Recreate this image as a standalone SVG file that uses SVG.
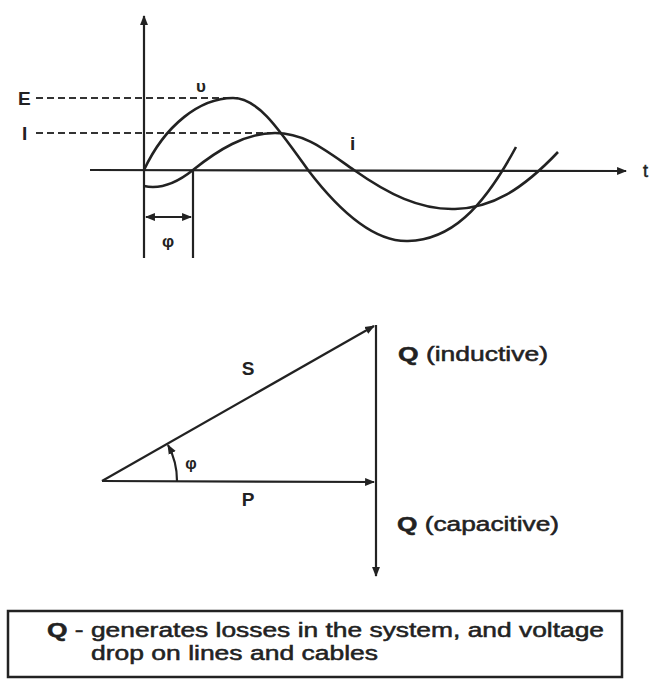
<svg xmlns="http://www.w3.org/2000/svg" width="649" height="679" viewBox="0 0 649 679">
<defs>
<style>
.ln{stroke:#222;stroke-width:2.2;fill:none}
.cv{stroke:#222;stroke-width:2.6;fill:none}
.dash{stroke:#333;stroke-width:2;fill:none;stroke-dasharray:7 4}
.lbl{font-family:"Liberation Sans",Arial,sans-serif;font-weight:bold;fill:#222}
.txt{font-family:"Liberation Sans",Arial,sans-serif;fill:#222;stroke:#222;stroke-width:0.5}
</style>
<marker id="ah" viewBox="0 0 10 10" refX="9" refY="5" markerWidth="4.5" markerHeight="4.5" orient="auto-start-reverse" markerUnits="strokeWidth">
<path d="M0,1 L10,5 L0,9 Z" fill="#222"/>
</marker>
</defs>
<rect width="649" height="679" fill="#fff"/>

<g id="waveform">
<line class="ln" x1="144" y1="258" x2="144" y2="16" marker-end="url(#ah)"/>
<line class="ln" x1="90" y1="170" x2="626" y2="171" marker-end="url(#ah)"/>
<text class="txt" x="643" y="177" font-size="18">t</text>
<line class="dash" x1="36" y1="98" x2="238" y2="98"/>
<line class="dash" x1="36" y1="133" x2="282" y2="133"/>
<text class="lbl" x="18" y="105" font-size="19">E</text>
<text class="lbl" x="22" y="140" font-size="19">I</text>
<text class="lbl" x="196" y="92" font-size="17">υ</text>
<text class="lbl" x="350" y="150" font-size="19">i</text>
<path id="v" class="cv" d="M144,170 C165,125 200,98 233,98 C258,98 278,128 308,170 C340,212 375,242 408,241 C450,240 482,210 516,147"/>
<path id="i" class="cv" d="M144,186 C162,190 178,182 193,170 C218,150 245,133 275,133 C305,133 325,150 354,170 C388,194 420,210 455,209 C492,208 522,190 558,152"/>
<line class="ln" x1="193" y1="170" x2="193" y2="258"/>
<line class="ln" x1="146" y1="217" x2="191" y2="217" marker-start="url(#ah)" marker-end="url(#ah)"/>
<text class="lbl" x="168" y="247" font-size="17" text-anchor="middle">φ</text>
</g>

<g id="connectors">
<line id="S" class="ln" x1="102" y1="481" x2="374" y2="326" marker-end="url(#ah)"/>
<line id="P" class="ln" x1="102" y1="481" x2="374" y2="482" marker-end="url(#ah)"/>
<line id="Qind" class="ln" x1="376" y1="482" x2="376" y2="325"/>
<line id="Qcap" class="ln" x1="376" y1="482" x2="376" y2="576" marker-end="url(#ah)"/>
<path id="arc" class="ln" stroke-width="2" d="M177,481 A75,75 0 0 0 168,445" marker-end="url(#ah)"/>
</g>

<g id="labels">
<text class="lbl" x="248" y="375" font-size="19" text-anchor="middle">S</text>
<text class="lbl" x="248" y="506" font-size="19" text-anchor="middle">P</text>
<text class="lbl" x="191" y="469" font-size="16" text-anchor="middle">φ</text>
<text class="txt" x="398" y="361" font-size="20" textLength="150" lengthAdjust="spacingAndGlyphs"><tspan font-weight="bold">Q</tspan> (inductive)</text>
<text class="txt" x="397" y="531" font-size="20" textLength="162" lengthAdjust="spacingAndGlyphs"><tspan font-weight="bold">Q</tspan> (capacitive)</text>
</g>

<g id="note">
<rect x="8" y="611" width="614" height="66" fill="none" stroke="#222" stroke-width="2.5"/>
<text class="txt" x="47" y="637" font-size="20" textLength="557" lengthAdjust="spacingAndGlyphs"><tspan font-weight="bold">Q</tspan> - generates losses in the system, and voltage</text>
<text class="txt" x="91" y="660" font-size="20" textLength="287" lengthAdjust="spacingAndGlyphs">drop on lines and cables</text>
</g>
</svg>
